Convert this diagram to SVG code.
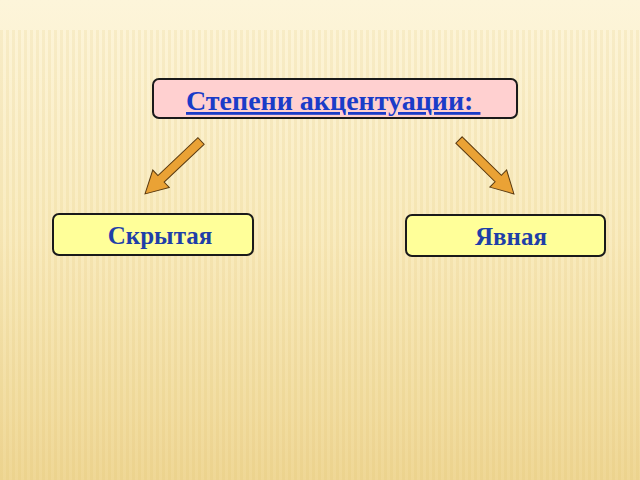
<svg xmlns="http://www.w3.org/2000/svg" width="640" height="480" viewBox="0 0 640 480">
<defs>
<linearGradient id="bg" x1="0" y1="0" x2="0" y2="1">
<stop offset="0" stop-color="#FDF5DA"/>
<stop offset="0.5" stop-color="#F9EBBE"/>
<stop offset="1" stop-color="#EFD795"/>
</linearGradient>
<pattern id="stripes" width="6" height="480" patternUnits="userSpaceOnUse">
<rect x="0" y="0" width="3" height="480" fill="#D9B860"/>
</pattern>
<path id="arr" d="M0,-4.5 L55,-4.5 L55,-12 L77,0 L55,12 L55,4.5 L0,4.5 Z"/>
</defs>
<style>
.box{stroke:#1a1a1a;stroke-width:2}
.lbl{font-family:"Liberation Serif","Times New Roman",serif;font-weight:bold;fill:#1F3FA8}
.arrow{fill:#EAA235;stroke:#5a3a10;stroke-width:1}
</style>
<rect width="640" height="480" fill="url(#bg)"/>
<rect y="30" width="640" height="450" fill="url(#stripes)" opacity="0.14"/>
<g id="connectors">
<use href="#arr" class="arrow" transform="translate(201,141) rotate(136.6)"/>
<use href="#arr" class="arrow" transform="translate(459,140) rotate(44.5)"/>
</g>
<g id="node-title">
<rect class="box" x="153" y="79" width="364" height="39" rx="6" fill="#FFD0D0"/>
<text class="lbl" x="186" y="110" font-size="28" text-decoration="underline" style="fill:#1A3CC8">Степени акцентуации:&#160;</text>
</g>
<g id="node-hidden">
<rect class="box" x="53" y="214" width="200" height="41" rx="6" fill="#FFFF99"/>
<text class="lbl" x="160" y="244" font-size="25" text-anchor="middle">Скрытая</text>
</g>
<g id="node-explicit">
<rect class="box" x="406" y="215" width="199" height="41" rx="6" fill="#FFFF99"/>
<text class="lbl" x="511" y="245" font-size="25" text-anchor="middle">Явная</text>
</g>
</svg>
